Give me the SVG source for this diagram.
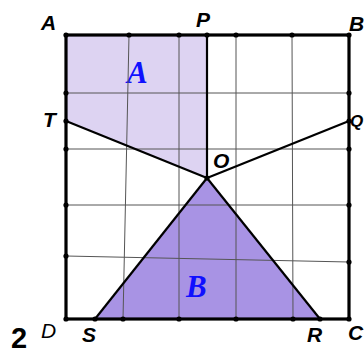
<svg xmlns="http://www.w3.org/2000/svg" width="364" height="356" viewBox="0 0 364 356">
<style>
.grid{stroke:#555;stroke-width:1;fill:none}
.seg{stroke:#000;stroke-width:2.2;fill:none;stroke-linejoin:round}
.border{stroke:#000;stroke-width:3.2;fill:none}
.dot{fill:#000}
.lbl{font-family:"Liberation Sans",Arial,sans-serif;font-style:italic;font-weight:bold;font-size:21px;fill:#000}
.reg{font-family:"Liberation Serif","Times New Roman",serif;font-style:italic;font-weight:bold;font-size:31px;fill:#1010ff}
</style>
<rect width="364" height="356" fill="#fff"/>
<g id="regionA"><polygon points="66,35 207,35 207,178 66,121" fill="#ddd3f2"/><text class="reg" x="127" y="83">A</text></g>
<g id="regionB"><polygon points="95,319 207,178 320,319" fill="#a893e4"/><text class="reg" x="186" y="297">B</text></g>
<g id="grid">
<line class="grid" x1="129" y1="35" x2="123" y2="319"/>
<line class="grid" x1="179" y1="35" x2="179" y2="319"/>
<line class="grid" x1="236" y1="35" x2="236" y2="319"/>
<line class="grid" x1="292" y1="35" x2="293" y2="319"/>
<line class="grid" x1="66" y1="93" x2="349" y2="93"/>
<line class="grid" x1="66" y1="149" x2="349" y2="149"/>
<line class="grid" x1="66" y1="205" x2="349" y2="205"/>
<line class="grid" x1="66" y1="256" x2="349" y2="262"/>
</g>
<g id="connectors">
<line class="seg" x1="207" y1="35" x2="207" y2="178"/>
<line class="seg" x1="66" y1="121" x2="207" y2="178"/>
<line class="seg" x1="349" y1="121" x2="207" y2="178"/>
<line class="seg" x1="95" y1="319" x2="207" y2="178"/>
<line class="seg" x1="320" y1="319" x2="207" y2="178"/>
</g>
<g id="square"><rect class="border" x="66" y="35" width="283" height="284"/></g>
<g id="dots">
<circle class="dot" cx="66" cy="35" r="2.6"/><circle class="dot" cx="129" cy="35" r="2.6"/><circle class="dot" cx="179" cy="35" r="2.6"/><circle class="dot" cx="207" cy="35" r="2.6"/><circle class="dot" cx="236" cy="35" r="2.6"/><circle class="dot" cx="292" cy="35" r="2.6"/><circle class="dot" cx="349" cy="35" r="2.6"/>
<circle class="dot" cx="66" cy="93" r="2.6"/><circle class="dot" cx="66" cy="121" r="2.6"/><circle class="dot" cx="66" cy="149" r="2.6"/><circle class="dot" cx="66" cy="205" r="2.6"/><circle class="dot" cx="66" cy="256" r="2.6"/><circle class="dot" cx="66" cy="319" r="2.6"/>
<circle class="dot" cx="349" cy="93" r="2.6"/><circle class="dot" cx="349" cy="121" r="2.6"/><circle class="dot" cx="349" cy="149" r="2.6"/><circle class="dot" cx="349" cy="205" r="2.6"/><circle class="dot" cx="349" cy="262" r="2.6"/><circle class="dot" cx="349" cy="319" r="2.6"/>
<circle class="dot" cx="95" cy="319" r="2.6"/><circle class="dot" cx="123" cy="319" r="2.6"/><circle class="dot" cx="179" cy="319" r="2.6"/><circle class="dot" cx="236" cy="319" r="2.6"/><circle class="dot" cx="293" cy="319" r="2.6"/><circle class="dot" cx="320" cy="319" r="2.6"/>
<circle class="dot" cx="207" cy="178" r="2.6"/>
</g>
<g id="labels">
<text class="lbl" x="41" y="30">A</text>
<text class="lbl" x="196" y="27">P</text>
<text class="lbl" x="349" y="31">B</text>
<text class="lbl" x="43" y="127">T</text>
<text class="lbl" x="350" y="127" style="font-size:17px">Q</text>
<text class="lbl" x="213" y="168">O</text>
<text class="lbl" x="41" y="338" style="font-weight:normal">D</text>
<text class="lbl" x="82" y="342">S</text>
<text class="lbl" x="307" y="342">R</text>
<text class="lbl" x="348" y="340">C</text>
<text x="11" y="348" font-family="Liberation Sans,Arial,sans-serif" font-weight="bold" font-size="29">2</text>
</g>
</svg>
